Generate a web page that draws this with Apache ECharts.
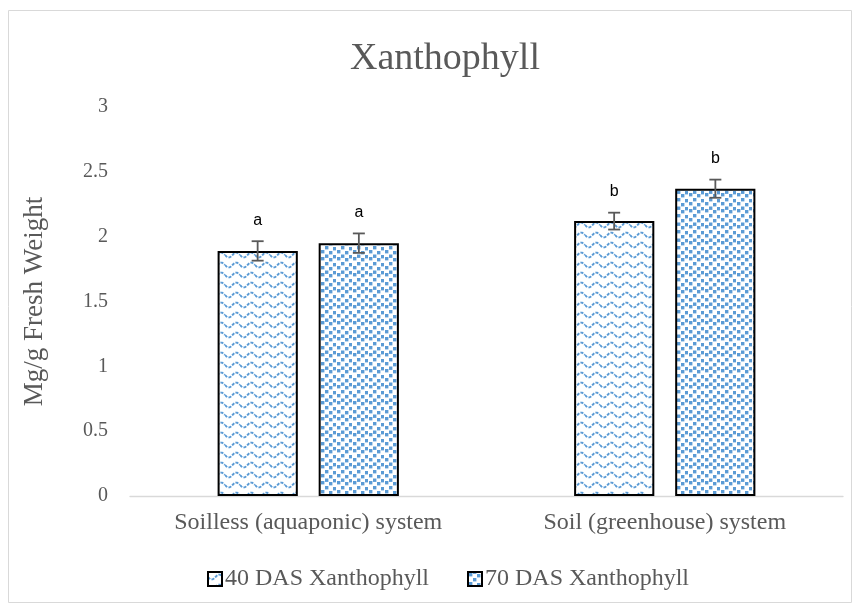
<!DOCTYPE html>
<html><head><meta charset="utf-8">
<script src="https://cdn.jsdelivr.net/npm/echarts@6/dist/echarts.min.js"></script>
<style>html,body{margin:0;padding:0;background:#fff}#c{width:861px;height:605px}</style>
</head><body><div id="c"></div>
<script>
const categories = ['Soilless (aquaponic) system', 'Soil (greenhouse) system'];
const seriesNames = ['40 DAS Xanthophyll', '70 DAS Xanthophyll'];
const values40 = [1.89, 2.12];
const values70 = [1.95, 2.37];
const err40 = [0.075, 0.065];
const err70 = [0.075, 0.07];
const letters40 = ['a', 'b'];
const letters70 = ['a', 'b'];
const yTicks = [0, 0.5, 1, 1.5, 2, 2.5, 3];

function wavePattern() {
  const c = document.createElement('canvas');
  c.width = 15; c.height = 10;
  const g = c.getContext('2d');
  g.fillStyle = '#fff'; g.fillRect(0,0,15,10);
  g.strokeStyle = '#5B9BD5'; g.lineWidth = 1.9;
  g.setLineDash([3, 1.3]);
  g.beginPath();
  for (let x = 0; x <= 15; x += 0.5) {
    const y = 5 + 2.4 * Math.sin(x / 15 * 2 * Math.PI);
    if (x === 0) g.moveTo(x, y); else g.lineTo(x, y);
  }
  g.stroke();
  return c;
}
function dotPattern() {
  const c = document.createElement('canvas');
  c.width = 16; c.height = 16;
  const g = c.getContext('2d');
  g.fillStyle = '#fff'; g.fillRect(0,0,16,16);
  g.fillStyle = '#5B9BD5';
  const pts = [[1,1],[9,2],[5,6],[13,7],[1,10],[9,11],[5,14.5],[13,15]];
  pts.forEach(p => {
    g.fillRect(p[0], p[1], 3.4, 3.4);
    if (p[1] + 3.4 > 16) g.fillRect(p[0], p[1] - 16, 3.4, 3.4);
  });
  return c;
}
const pat40 = { image: wavePattern(), repeat: 'repeat' };
const pat70 = { image: dotPattern(), repeat: 'repeat' };

const chart = echarts.init(document.getElementById('c'));
const barW = '22.5%';
const gapPx = 21;

function errSeries(vals, errs, letters, sideIndex) {
  return {
    type: 'custom',
    z: 5,
    data: vals.map((v, i) => [i, v, errs[i]]),
    renderItem: function (params, api) {
      const i = api.value(0), v = api.value(1), e = api.value(2);
      const base = api.coord([i, 0]);
      const bw = api.size([1, 0])[0];
      const w = bw * 0.225;
      const off = (w + gapPx) / 2;
      const x = base[0] + (sideIndex === 0 ? -off : off);
      const top = api.coord([i, v + e])[1];
      const bot = api.coord([i, v - e])[1];
      const cap = 6;
      const st = { stroke: '#595959', lineWidth: 1.8 };
      return { type: 'group', children: [
        { type: 'line', shape: { x1: x, y1: top, x2: x, y2: bot }, style: st },
        { type: 'line', shape: { x1: x - cap, y1: top, x2: x + cap, y2: top }, style: st },
        { type: 'line', shape: { x1: x - cap, y1: bot, x2: x + cap, y2: bot }, style: st },
        { type: 'text', x: x, y: top - 21, style: { text: letters[i], fill: '#000', font: '16px "Liberation Sans", Arial', align: 'center', verticalAlign: 'middle' } }
      ]};
    },
    silent: true,
    tooltip: { show: false }
  };
}

chart.setOption({
  animation: false,
  title: {
    text: 'Xanthophyll', left: 345, top: 35,
    textStyle: { fontFamily: 'Liberation Serif', fontSize: 38, fontWeight: 'normal', color: '#595959' }
  },
  graphic: [{ type: 'rect', shape: { x: 8.5, y: 10.5, width: 843, height: 592 }, style: { fill: 'none', stroke: '#d9d9d9', lineWidth: 1 }, silent: true }],
  legend: {
    top: 562, left: 202, itemGap: 38, itemWidth: 14, itemHeight: 14,
    icon: 'rect',
    textStyle: { fontFamily: 'Liberation Serif', fontSize: 24, color: '#595959', padding: [0, 0, 0, -2] },
    data: seriesNames
  },
  grid: { left: 130, right: 18, top: 107, bottom: 109, containLabel: false },
  xAxis: {
    type: 'category', data: categories,
    axisLine: { lineStyle: { color: '#d9d9d9', width: 1.3 } },
    axisTick: { show: false },
    axisLabel: { fontFamily: 'Liberation Serif', fontSize: 24, color: '#595959', margin: 15 }
  },
  yAxis: {
    type: 'value', min: 0, max: 3, interval: 0.5,
    name: 'Mg/g Fresh Weight', nameLocation: 'middle', nameGap: 82, nameRotate: 90,
    nameTextStyle: { fontFamily: 'Liberation Serif', fontSize: 27, color: '#595959' },
    splitLine: { show: false }, axisLine: { show: false }, axisTick: { show: false },
    axisLabel: { fontFamily: 'Liberation Serif', fontSize: 20, color: '#595959', margin: 22,
      formatter: v => yTicks.includes(v) ? String(v) : '' }
  },
  series: [
    { name: seriesNames[0], type: 'bar', data: values40, barWidth: barW, barGap: '26%',
      itemStyle: { color: pat40, borderColor: '#000', borderWidth: 2 } },
    { name: seriesNames[1], type: 'bar', data: values70, barWidth: barW,
      itemStyle: { color: pat70, borderColor: '#000', borderWidth: 2 } },
    errSeries(values40, err40, letters40, 0),
    errSeries(values70, err70, letters70, 1)
  ]
});
</script></body></html>
